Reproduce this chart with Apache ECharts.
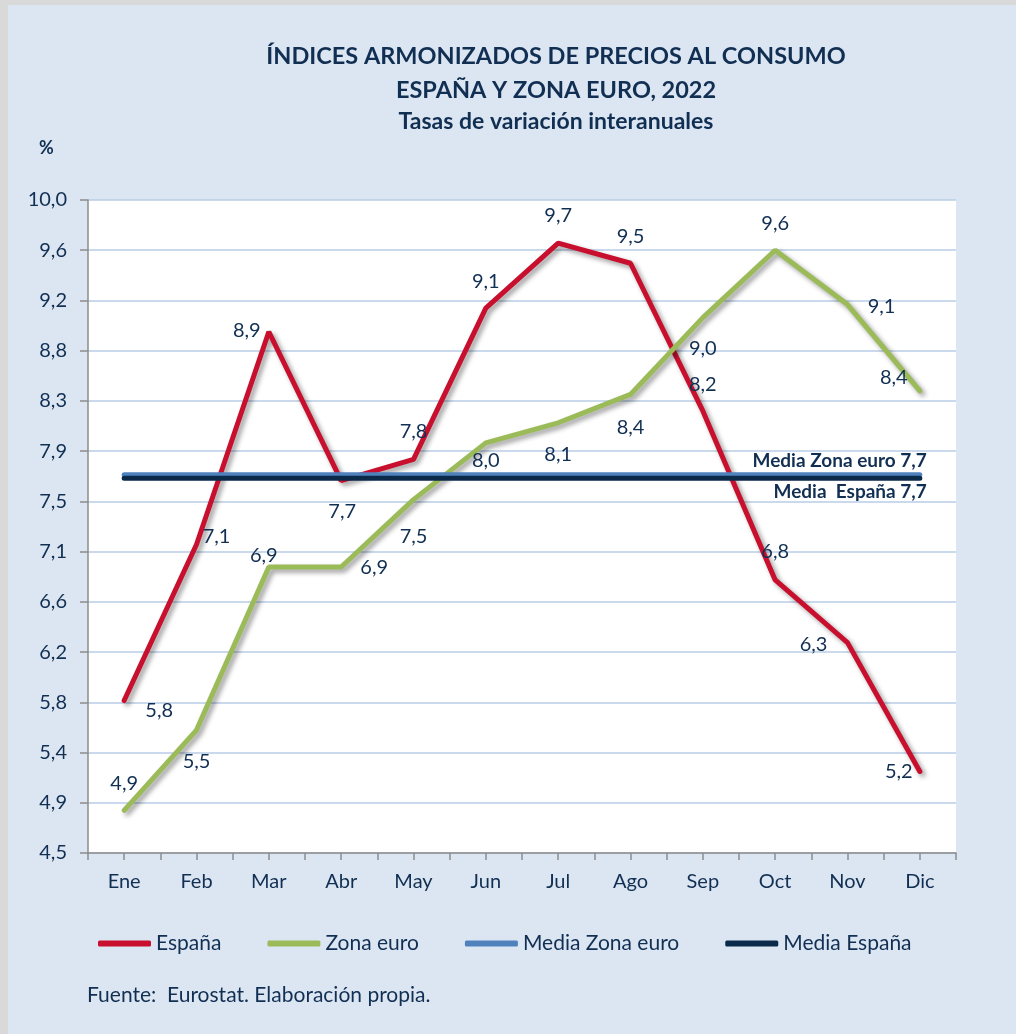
<!DOCTYPE html>
<html>
<head>
<meta charset="utf-8">
<script src="https://cdn.jsdelivr.net/npm/echarts@6/dist/echarts.min.js"></script>
<style>
html, body { margin: 0; padding: 0; background: #d9d9d9; }
#chart { position: absolute; left: 8px; top: 5px; width: 1008px; height: 1029px; background: #dce6f2; }
</style>
</head>
<body>
<div id="chart"></div>
<script>
// datos
const meses = ['Ene', 'Feb', 'Mar', 'Abr', 'May', 'Jun', 'Jul', 'Ago', 'Sep', 'Oct', 'Nov', 'Dic'];
const espana = [5.79, 7.11, 8.91, 7.65, 7.83, 9.11, 9.66, 9.49, 8.24, 6.81, 6.28, 5.19];
const zonaEuro = [4.86, 5.54, 6.92, 6.92, 7.49, 7.97, 8.14, 8.38, 9.03, 9.60, 9.14, 8.41];
const mediaZonaEuro = 7.70;
const mediaEspana = 7.67;
const yTicks = ['4,5', '4,9', '5,4', '5,8', '6,2', '6,6', '7,1', '7,5', '7,9', '8,3', '8,8', '9,2', '9,6', '10,0'];

// desplazamiento de las etiquetas respecto al punto
const espanaOff = [[35, 10], [20, -8], [-22, -1], [1, 31], [0, -28], [0, -27], [0, -28], [0, -27], [0, -26], [0, -28], [-34, 2], [-21, 0]];
const euroOff = [[0, -27], [0, 31], [-5, -11], [33, 1], [0, 37], [0, 18], [0, 32], [0, 33], [0, 31], [0, -27], [34, 2], [-26, -13]];

const txt = '#112f52';
const font = 'Lato, "Open Sans", sans-serif';
const fmt = v => (Math.round(v * 10 + 1e-6) / 10).toFixed(1).replace('.', ',');

const shadow = { shadowColor: 'rgba(0,0,0,0.4)', shadowBlur: 5, shadowOffsetX: 3, shadowOffsetY: 3 };

const lineSerie = (name, values, offs, color) => ({
    name: name,
    type: 'line',
    data: values.map((v, i) => ({ value: v, label: { offset: offs[i] } })),
    symbol: 'circle',
    symbolSize: 1,
    showSymbol: true,
    itemStyle: { color: color },
    lineStyle: Object.assign({ color: color, width: 5, cap: 'round' }, shadow),
    label: {
        show: true,
        position: 'inside',
        formatter: p => fmt(p.value),
        color: txt,
        fontSize: 20,
        fontFamily: font
    },
    emphasis: { disabled: true }
});

const mediaSerie = (name, value, color, text, dy) => ({
    name: name,
    type: 'line',
    data: meses.map((m, i) => i === meses.length - 1 ? {
        value: value,
        label: {
            show: true, position: 'inside', align: 'right', offset: [7, dy],
            formatter: p => text + fmt(p.value),
            color: txt, fontSize: 19, fontWeight: 'bold', fontFamily: font
        }
    } : value),
    symbol: 'circle',
    symbolSize: 1,
    showSymbol: true,
    itemStyle: { color: color },
    lineStyle: { color: color, width: 5, cap: 'round' },
    label: { show: false },
    emphasis: { disabled: true }
});

const chart = echarts.init(document.getElementById('chart'));
chart.setOption({
    animation: false,
    grid: { left: 80, top: 195, width: 868, height: 653, show: true, backgroundColor: '#ffffff', borderWidth: 0 },
    graphic: [
        { type: 'text', x: 548, y: 51, style: { text: 'ÍNDICES ARMONIZADOS DE PRECIOS AL CONSUMO', fill: txt, font: 'bold 23.5px ' + font, align: 'center', verticalAlign: 'middle' } },
        { type: 'text', x: 548, y: 85, style: { text: 'ESPAÑA Y ZONA EURO, 2022', fill: txt, font: 'bold 23.5px ' + font, align: 'center', verticalAlign: 'middle' } },
        { type: 'text', x: 548, y: 117, style: { text: 'Tasas de variación interanuales', fill: txt, font: 'bold 23px ' + font, align: 'center', verticalAlign: 'middle' } },
        { type: 'text', x: 31, y: 143, style: { text: '%', fill: txt, font: 'bold 18px ' + font, verticalAlign: 'middle' } },
        { type: 'text', x: 79, y: 990, style: { text: 'Fuente:  Eurostat. Elaboración propia.', fill: txt, font: '21px ' + font, verticalAlign: 'middle' } }
    ],
    legend: {
        data: ['España', 'Zona euro', 'Media Zona euro', 'Media España'],
        left: 85, top: 923,
        icon: 'roundRect', itemWidth: 53, itemHeight: 6, itemGap: 46,
        textStyle: { color: txt, fontSize: 21, fontFamily: font }
    },
    xAxis: [
        {
            type: 'category', data: meses, boundaryGap: true,
            axisLine: { lineStyle: { color: '#8c8c8c', width: 1.5 } },
            axisTick: { show: true, length: 7, lineStyle: { color: '#8c8c8c', width: 1.5 } },
            axisLabel: { color: txt, fontSize: 20, fontFamily: font, margin: 19 }
        },
        {
            type: 'category', data: meses, boundaryGap: true, position: 'bottom',
            axisLine: { show: false },
            axisTick: { show: true, alignWithLabel: true, length: 7, lineStyle: { color: '#8c8c8c', width: 1.5 } },
            axisLabel: { show: false }
        }
    ],
    yAxis: [
        { type: 'value', min: 4.5, max: 10.025, show: false },
        {
            type: 'value', min: 0, max: yTicks.length - 1, interval: 1, position: 'left',
            axisLine: { show: true, lineStyle: { color: '#8c8c8c', width: 1.5 } },
            axisTick: { show: true, length: 8, lineStyle: { color: '#8c8c8c', width: 1.5 } },
            axisLabel: { formatter: v => yTicks[v], color: txt, fontSize: 20, fontFamily: font, margin: 21 },
            splitLine: { lineStyle: { color: '#b8cce4', width: 1.5 } }
        }
    ],
    series: [
        lineSerie('España', espana, espanaOff, '#c8102e'),
        lineSerie('Zona euro', zonaEuro, euroOff, '#9bbb59'),
        mediaSerie('Media Zona euro', mediaZonaEuro, '#4f81bd', 'Media Zona euro ', -14),
        mediaSerie('Media España', mediaEspana, '#0b2a4a', 'Media  España ', 14)
    ]
});
</script>
</body>
</html>
